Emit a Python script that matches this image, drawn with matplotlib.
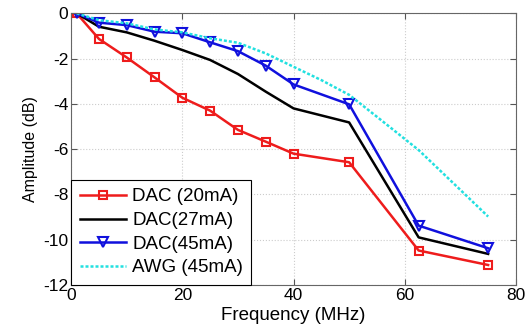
import matplotlib
matplotlib.use("Agg")
import matplotlib.pyplot as plt

plt.rcParams['font.family'] = ['Liberation Sans', 'DejaVu Sans']
plt.rcParams['axes.unicode_minus'] = False

# frequency points (MHz)
freq = [1, 5, 10, 15, 20, 25, 30, 35, 40, 50, 62.5, 75]
dac_20 = [0, -1.13, -1.95, -2.83, -3.73, -4.3, -5.15, -5.67, -6.2, -6.58, -10.48, -11.12]
dac_27 = [0, -0.59, -0.84, -1.21, -1.62, -2.06, -2.68, -3.46, -4.2, -4.82, -9.9, -10.63]
dac_45 = [0, -0.41, -0.52, -0.81, -0.88, -1.28, -1.67, -2.31, -3.14, -4.02, -9.38, -10.38]

awg_freq = [1, 5, 10, 15, 20, 25, 30, 35, 40, 45, 50, 55, 62.5, 70, 75]
awg_45 = [0, -0.3, -0.44, -0.71, -0.84, -1.1, -1.3, -1.77, -2.36, -2.95, -3.6, -4.57, -6.04, -7.8, -8.98]

fig = plt.figure(figsize=(5.27, 3.34), dpi=100)
ax = fig.add_axes([0.135, 0.147, 0.844, 0.813])

ax.plot(freq, dac_20, color='#ee1c1c', lw=1.8, marker='s', ms=6, mfc='none', mew=1.5,
        label='DAC (20mA)')
ax.plot(freq, dac_27, color='black', lw=1.8, label='DAC(27mA)')
ax.plot(freq, dac_45, color='#1010dd', lw=1.8, marker='v', ms=7, mfc='none', mew=1.5,
        label='DAC(45mA)')
ax.plot(awg_freq, awg_45, color='#22e0e0', lw=1.8, ls=(0, (1.2, 0.8)), label='AWG (45mA)')

ax.set_xlim(0, 80)
ax.set_ylim(-12, 0)
ax.set_xticks([0, 20, 40, 60, 80])
ax.set_yticks([0, -2, -4, -6, -8, -10, -12])
ax.grid(True, color='#cccccc', ls=':', lw=0.8)
ax.tick_params(direction='in', top=True, right=True, labelsize=12.5, length=4,
               color='#555555', pad=2)
for sp in ax.spines.values():
    sp.set_color('#666666')

ax.set_xlabel('Frequency (MHz)', fontsize=13.5, labelpad=3)
ax.set_ylabel('Amplitude (dB)', fontsize=11.5, labelpad=4)

leg = ax.legend(loc='lower left', fontsize=13.5, frameon=True, fancybox=False,
                borderaxespad=0, borderpad=0.45, handlelength=2.5, handletextpad=0.3,
                labelspacing=0.35)
leg.get_frame().set_edgecolor('black')
leg.get_frame().set_linewidth(0.8)
leg.get_frame().set_alpha(1)

fig.savefig('out.png', dpi=100)
